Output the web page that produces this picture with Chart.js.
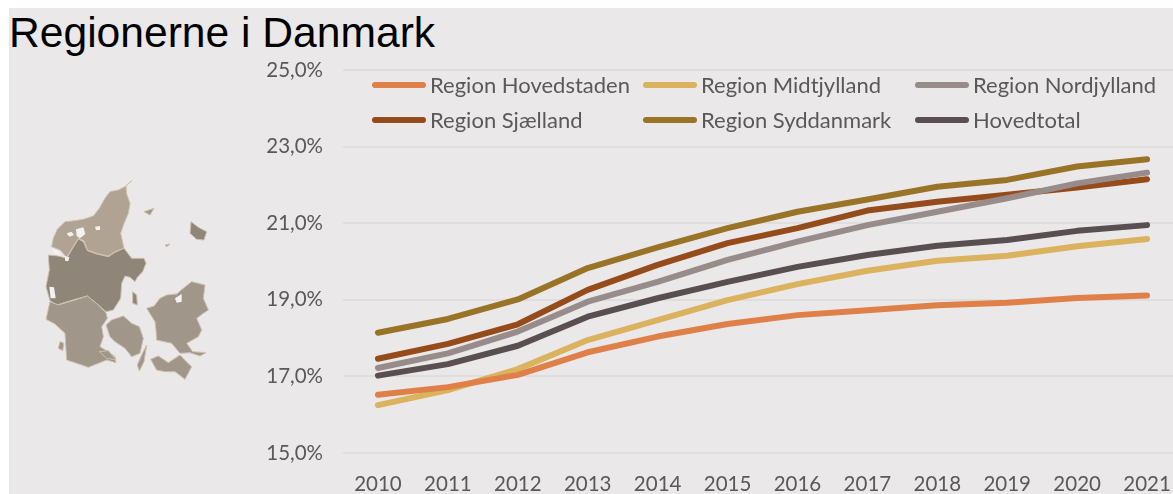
<!DOCTYPE html>
<html lang="da">
<head>
<meta charset="utf-8">
<title>Regionerne i Danmark</title>
<script src="https://cdn.jsdelivr.net/npm/chart.js@4"></script>
<style>
    html, body { margin: 0; width: 1173px; height: 494px; overflow: hidden; background: #fff; }
    #panel { position: absolute; left: 9px; top: 8px; width: 1164px; height: 486px; background: #eae8e9; }
    #title { position: absolute; left: 9px; top: 7px; margin: 0; font: 400 42.6px/50px "Liberation Sans", Arial, sans-serif; color: #000; white-space: nowrap; }
    #map { position: absolute; left: 0; top: 170px; width: 230px; height: 220px; filter: blur(0.4px); }
    #chart { position: absolute; left: 0; top: 0; }
    .legend-item { position: absolute; height: 26px; font: 400 22px/26px Lato, sans-serif; color: #595959; white-space: nowrap; }
    .legend-item i { position: absolute; left: 0; top: 10px; width: 54px; height: 6px; border-radius: 3px; }
    .legend-item span { position: absolute; left: 58px; top: 0; }
</style>
</head>
<body>
<div id="panel"></div>
<svg id="map" viewBox="0 0 690 660">
    <g stroke="#cdbfa9" stroke-width="3" stroke-linejoin="round">
        <path fill="#b0a394" d="M395 32L378 48L380 72L390 100L385 130L372 160L362 190L372 235L345 245L325 258L290 250L262 240L252 212L235 205L222 225L200 262L180 240L155 230L160 205L172 178L195 155L225 152L250 148L280 138L298 115L315 85L330 65L355 60L375 50Z"/>
        <path fill="#8f8578" d="M145 255L175 258L200 265L222 228L235 207L250 215L262 242L290 252L325 260L345 247L372 235L395 265L432 265L438 280L428 305L412 322L405 335L390 322L375 318L365 340L362 385L340 420L318 425L295 405L262 378L225 388L170 405L150 392L138 350L148 300Z"/>
        <path fill="#a0968a" d="M150 395L175 405L225 390L262 378L295 405L318 428L322 445L305 470L310 500L300 530L325 545L345 560L348 578L320 570L300 578L265 592L225 578L200 570L195 490L165 462L138 448Z"/>
        <path fill="#a0968a" d="M335 450L370 438L395 460L418 470L430 505L420 550L395 560L375 535L345 515L330 500L318 465Z"/>
        <path fill="#a0968a" d="M440 415L462 408L480 385L500 375L530 372L550 355L575 335L615 345L610 385L625 420L610 430L590 445L605 480L595 500L560 520L578 545L618 548L600 558L570 548L540 550L515 520L470 510L468 480L465 455Z"/>
        <path fill="#a0968a" d="M452 568L475 558L505 578L540 555L562 578L575 590L555 628L525 605L495 605L470 600Z"/>
        <path fill="#8f8578" d="M573 155L595 172L620 185L612 210L590 208L570 190Z"/>
        <path fill="#a0968a" d="M432 125L462 115L450 135Z"/>
        <path fill="#a0968a" d="M495 225L510 222L500 230Z"/>
        <path fill="#a0968a" d="M440 525L432 575L418 603L412 585L425 555Z"/>
        <path fill="#a0968a" d="M298 545L325 542L348 570L320 565Z"/>
        <path fill="#a0968a" d="M180 515L192 520L188 542L175 535Z"/>
        <path fill="#8f8578" d="M398 365L410 375L412 405L398 400Z"/>
    </g>
    <g fill="#f4f2f1">
        <path d="M200 190L215 185L222 195L208 200Z"/>
        <path d="M228 178L250 172L256 192L240 205L230 198Z"/>
        <path d="M155 235L178 245L180 258L165 252Z"/>
        <path d="M195 258L208 262L205 274L195 272Z"/>
        <path d="M148 350L162 352L167 385L152 385Z"/>
        <path d="M525 385L545 372L545 395L530 398Z"/>
        <path d="M285 170L300 168L300 180L288 180Z"/>
    </g>
</svg>
<h1 id="title">Regionerne i Danmark</h1>
<canvas id="chart" width="1182" height="494"></canvas>
<div id="legend"></div>
<script>
// Data
const years = ['2010', '2011', '2012', '2013', '2014', '2015', '2016', '2017', '2018', '2019', '2020', '2021'];

const hovedstaden = [16.52, 16.72, 17.04, 17.63, 18.04, 18.37, 18.60, 18.73, 18.86, 18.92, 19.05, 19.11];
const midtjylland = [16.25, 16.64, 17.19, 17.95, 18.47, 18.99, 19.41, 19.76, 20.02, 20.15, 20.40, 20.59];
const nordjylland = [17.22, 17.60, 18.17, 18.95, 19.47, 20.04, 20.52, 20.95, 21.30, 21.65, 22.04, 22.32];
const sjaelland = [17.46, 17.85, 18.36, 19.26, 19.91, 20.48, 20.87, 21.33, 21.56, 21.74, 21.93, 22.15];
const syddanmark = [18.14, 18.50, 19.01, 19.83, 20.37, 20.87, 21.30, 21.62, 21.95, 22.13, 22.48, 22.67];
const hovedtotal = [17.02, 17.32, 17.80, 18.56, 19.04, 19.47, 19.86, 20.17, 20.41, 20.56, 20.80, 20.95];

const tickColor = '#595959';
const tickFont = { family: 'Lato', size: 20.5 };

function line(label, data, color) {
    return {
        label: label,
        data: data,
        borderColor: color,
        backgroundColor: color,
        borderWidth: 6,
        borderCapStyle: 'round',
        borderJoinStyle: 'round',
        pointRadius: 0,
        tension: 0,
        fill: false
    };
}

const chart = new Chart(document.getElementById('chart').getContext('2d'), {
    type: 'line',
    data: {
        labels: years,
        datasets: [
            line('Region Hovedstaden', hovedstaden, '#e08049'),
            line('Region Midtjylland', midtjylland, '#dbb25e'),
            line('Region Nordjylland', nordjylland, '#978c8a'),
            line('Region Sjælland', sjaelland, '#964b1b'),
            line('Region Syddanmark', syddanmark, '#997326'),
            line('Hovedtotal', hovedtotal, '#5a4f50')
        ]
    },
    options: {
        responsive: false,
        animation: false,
        layout: { padding: { top: 70, right: 0, bottom: 0, left: 0 } },
        plugins: { legend: { display: false }, tooltip: { enabled: false } },
        scales: {
            x: {
                offset: true,
                afterFit: scale => { scale.height = 41; },
                grid: { display: false },
                border: { display: false },
                ticks: { color: tickColor, font: tickFont, padding: 11, maxRotation: 0, autoSkip: false }
            },
            y: {
                min: 15,
                max: 25,
                afterFit: scale => { scale.width = 343; },
                grid: { color: '#dfddde', lineWidth: 2, drawTicks: false },
                border: { display: false },
                ticks: {
                    stepSize: 2,
                    color: tickColor,
                    font: tickFont,
                    padding: 20,
                    callback: value => value.toFixed(1).replace('.', ',') + '%'
                }
            }
        }
    }
});

// Legend in three columns, built from the chart's own datasets
const legendColumns = [372, 643, 915];
const legendRows = [72, 107];
const legend = document.getElementById('legend');
chart.data.datasets.forEach((ds, i) => {
    const item = document.createElement('div');
    item.className = 'legend-item';
    item.style.left = legendColumns[i % 3] + 'px';
    item.style.top = legendRows[Math.floor(i / 3)] + 'px';
    item.innerHTML = `<i style="background:${ds.borderColor}"></i><span>${ds.label}</span>`;
    legend.appendChild(item);
});
</script>
</body>
</html>
